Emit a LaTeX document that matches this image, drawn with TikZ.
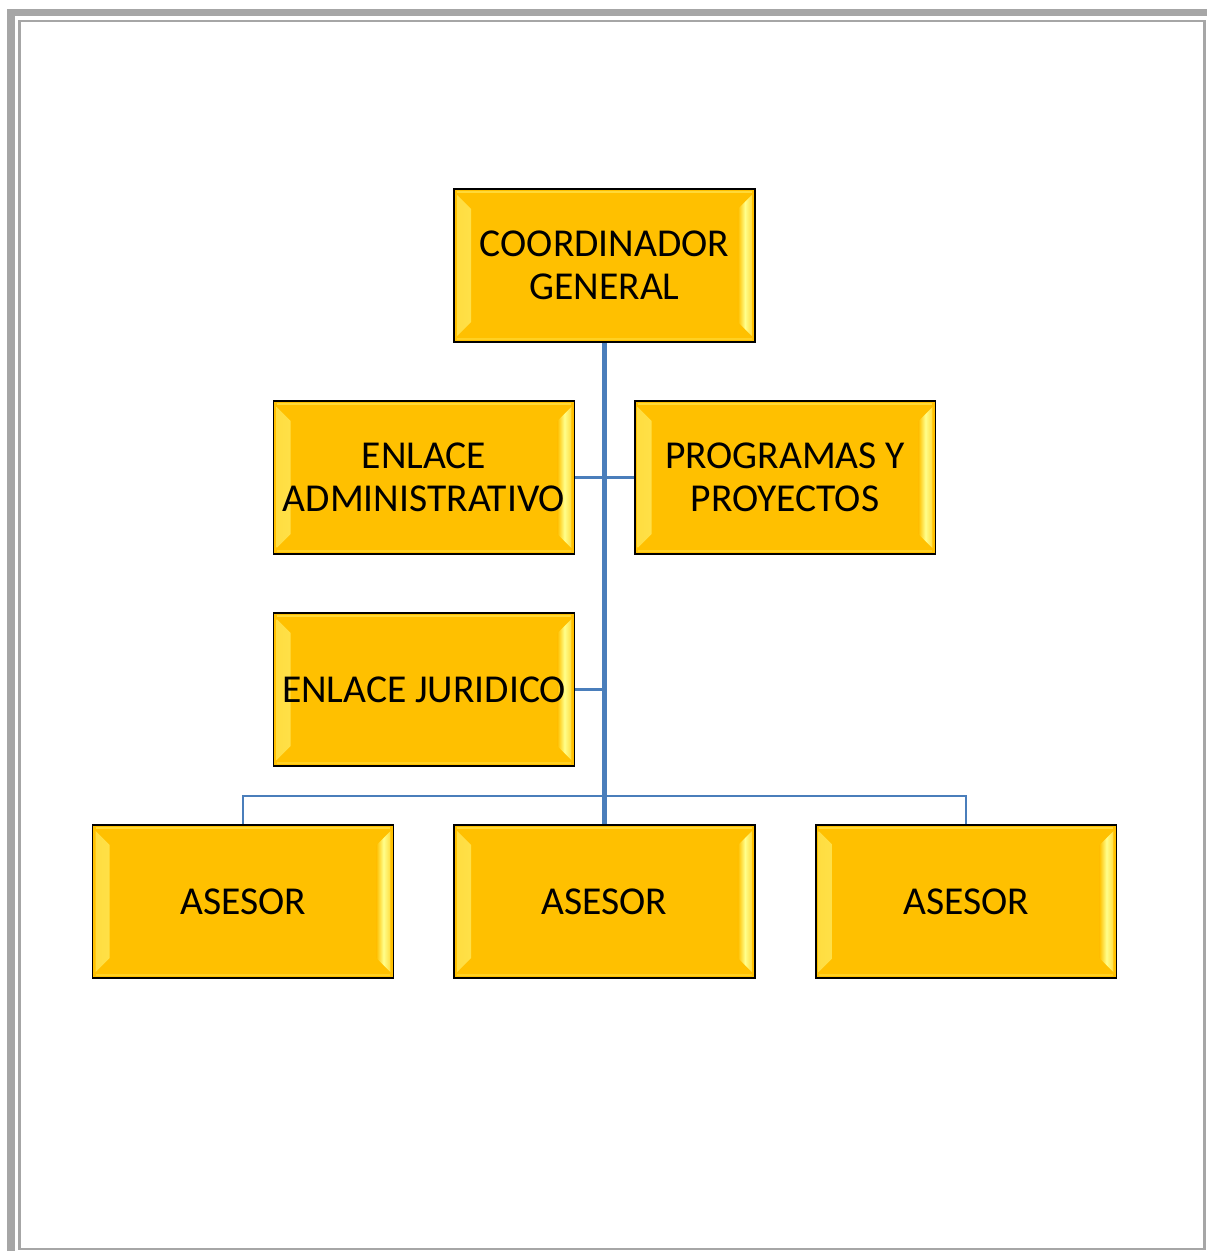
\documentclass[tikz,border=0pt]{standalone}
\usepackage{fontspec}
\setmainfont{Carlito}
\usepackage{xcolor}
\usepackage{tikz}

\definecolor{boxfill}{HTML}{FFC000}
\definecolor{bevel}{HTML}{FFFF8C}
\definecolor{linkblue}{HTML}{4A7EBB}
\definecolor{framegray}{HTML}{A6A6A6}

\begin{document}
\begin{tikzpicture}[
        x=0.02cm, y=-0.02cm,
        orgbox/.style={rectangle, draw=black, line width=1.1pt, fill=boxfill,
            minimum width=6.02cm, minimum height=3.06cm, inner sep=0pt,
            align=center, font=\fontsize{22.5}{24.5}\selectfont,
            path picture={
                % left and right bevel
                \fill[left color=boxfill!55!bevel, right color=boxfill, middle color=bevel]
                    ([shift={(3,6)}]path picture bounding box.north west) --
                    ([shift={(3,-6)}]path picture bounding box.south west) --
                    ([shift={(17,-20)}]path picture bounding box.south west) --
                    ([shift={(17,20)}]path picture bounding box.north west) -- cycle;
                \fill[right color=boxfill!55!bevel, left color=boxfill, middle color=bevel]
                    ([shift={(-3,6)}]path picture bounding box.north east) --
                    ([shift={(-3,-6)}]path picture bounding box.south east) --
                    ([shift={(-17,-20)}]path picture bounding box.south east) --
                    ([shift={(-17,20)}]path picture bounding box.north east) -- cycle;
                % light rim along top and bottom
                \draw[boxfill!60!bevel, line width=0.8pt]
                    ([shift={(3,3)}]path picture bounding box.north west) --
                    ([shift={(-3,3)}]path picture bounding box.north east);
                \draw[boxfill!75!bevel, line width=0.8pt]
                    ([shift={(3,-3)}]path picture bounding box.south west) --
                    ([shift={(-3,-3)}]path picture bounding box.south east);
            }},
        mainlink/.style={draw=linkblue, line width=2.3pt},
        sidelink/.style={draw=linkblue, line width=1.4pt}
    ]

    \useasboundingbox (0,0) rectangle (1207,1251);

    % Page frame
    \fill[framegray] (7,9) rectangle (1207,16);
    \fill[framegray] (7,9) rectangle (15,1251);
    \draw[framegray, line width=1.4pt] (19.5,21) rectangle (1204.5,1249);

    % Boxes
    \node[orgbox] (coord) at (604.5,265.5) {COORDINADOR\\GENERAL};
    \node[orgbox] (admin) at (424,477.5) {ENLACE\\ADMINISTRATIVO};
    \node[orgbox] (prog) at (785,477.5) {PROGRAMAS Y\\PROYECTOS};
    \node[orgbox] (jur) at (424,689.5) {ENLACE JURIDICO};
    \node[orgbox] (ases1) at (243,901.5) {ASESOR};
    \node[orgbox] (ases2) at (604.5,901.5) {ASESOR};
    \node[orgbox] (ases3) at (966,901.5) {ASESOR};

    % Connectors
    \draw[sidelink] (admin.east) -- (prog.west);
    \draw[sidelink] (jur.east) -- (jur.east -| coord.south);
    \draw[sidelink] (ases1.north) -- ++(0,-28) -| (ases3.north);
    \draw[mainlink] (coord.south) -- (ases2.north);

\end{tikzpicture}
\end{document}
